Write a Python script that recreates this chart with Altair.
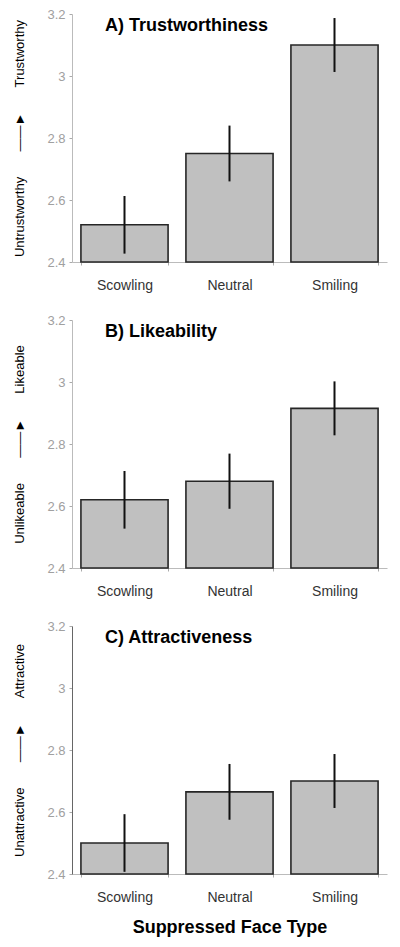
import altair as alt
import pandas as pd

faces = ["Scowling", "Neutral", "Smiling"]

trust_mean = [2.52, 2.75, 3.10]
trust_err = [0.093, 0.090, 0.087]
like_mean = [2.62, 2.68, 2.915]
like_err = [0.093, 0.089, 0.087]
attr_mean = [2.50, 2.665, 2.70]
attr_err = [0.093, 0.090, 0.087]

panel_titles = ["A) Trustworthiness", "B) Likeability", "C) Attractiveness"]
low_labels = ["Untrustworthy", "Unlikeable", "Unattractive"]
high_labels = ["Trustworthy", "Likeable", "Attractive"]
y_domain = [2.4, 3.2]
y_ticks = [2.4, 2.6, 2.8, 3.0, 3.2]

FONT = "Liberation Sans"
NB = "\u00a0"
ARROW = "\u2014\u2014\u25ba"


def panel(means, errs, title, low, high, last, domain_color):
    df = pd.DataFrame({
        "face": faces,
        "mean": means,
        "lo": [m - e for m, e in zip(means, errs)],
        "hi": [m + e for m, e in zip(means, errs)],
    })
    ytitle = low + NB * 7 + ARROW + NB * 7 + high
    xscale = alt.Scale(paddingInner=0.17, paddingOuter=0.085)
    xaxis = alt.Axis(
        title="Suppressed Face Type" if last else None,
        labelAngle=0, labelFont=FONT, labelFontSize=14, labelColor="#333333",
        labelPadding=13, tickBand="extent", tickSize=3, tickColor="#aaaaaa",
        domainColor="#bbbbbb", titleFont=FONT, titleFontSize=18,
        titleFontWeight="bold", titleColor="#000000", titlePadding=14,
    )
    yaxis = alt.Axis(
        title=ytitle, values=y_ticks, format="~g", grid=False,
        labelFont=FONT, labelFontSize=13, labelColor="#a0a0a0",
        labelPadding=4, tickSize=3, tickColor="#aaaaaa",
        domainColor=domain_color, titleFont=FONT, titleFontSize=13,
        titleFontWeight="normal", titleColor="#000000", titlePadding=20,
    )
    base = alt.Chart(df)
    bars = base.mark_bar(fill="#c0c0c0", stroke="#262626", strokeWidth=1.6).encode(
        x=alt.X("face:N", sort=faces, scale=xscale, axis=xaxis),
        y=alt.Y("mean:Q", scale=alt.Scale(domain=y_domain, zero=False, nice=False), axis=yaxis),
        y2=alt.datum(y_domain[0]),
    )
    err = base.mark_rule(color="#111111", strokeWidth=2).encode(
        x=alt.X("face:N", sort=faces),
        y="lo:Q",
        y2="hi:Q",
    )
    return alt.layer(bars, err).properties(
        width=315, height=248,
        title=alt.TitleParams(
            text=title, anchor="start", frame="group", font=FONT, fontSize=18,
            fontWeight="bold", color="#000000", dx=33, dy=27, offset=0,
        ),
    )


chart = alt.vconcat(
    panel(trust_mean, trust_err, panel_titles[0], low_labels[0], high_labels[0], False, "#bbbbbb"),
    panel(like_mean, like_err, panel_titles[1], low_labels[1], high_labels[1], False, "#bbbbbb"),
    panel(attr_mean, attr_err, panel_titles[2], low_labels[2], high_labels[2], True, "#666666"),
    spacing=22,
).properties(
    background="white",
    padding={"left": 5, "top": 0, "right": 5, "bottom": 5},
).configure_view(stroke=None)

chart.save("out.html", embed_options={"renderer": "svg", "actions": False})
